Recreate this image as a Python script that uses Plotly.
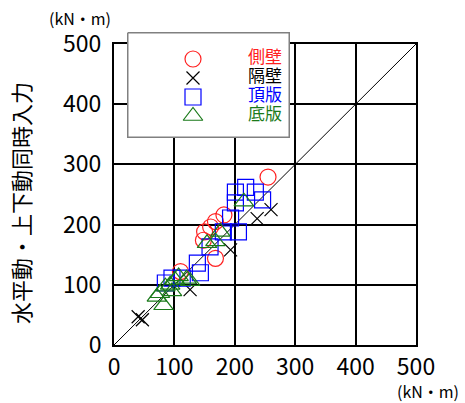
import plotly.graph_objects as go

# Moment comparison: single-direction input (x) vs. combined horizontal + vertical input (y), kN·m
series_names = ["側壁", "隔壁", "頂版", "底版"]
series_colors = ["#ff2020", "#000000", "#0000ff", "#1a7a1a"]
series_symbols = ["circle-open", "x-thin-open", "square-open", "triangle-up-open"]
series_sizes = [16, 13, 16, 17]

side_wall_x = [255, 182, 168, 160, 150, 148, 168, 110]
side_wall_y = [279, 216, 205, 196, 188, 174, 144, 122]

partition_x = [40, 47, 126, 193, 237, 260]
partition_y = [47, 42, 92, 158, 210, 225]

top_slab_x = [218, 201, 234, 246, 201, 193, 206, 181, 159, 138, 143, 113, 96, 85]
top_slab_y = [262, 254, 254, 241, 236, 211, 188, 188, 163, 136, 120, 111, 111, 103]

bottom_slab_x = [215, 176, 168, 154, 126, 107, 101, 93, 85, 76, 71, 82, 96, 120]
bottom_slab_y = [238, 188, 172, 169, 106, 114, 108, 100, 97, 86, 80, 66, 89, 110]

axis_ticks = [0, 100, 200, 300, 400, 500]
y_title = "水平動・上下動同時入力"
unit_label = "(kN・m)"

xs = [side_wall_x, partition_x, top_slab_x, bottom_slab_x]
ys = [side_wall_y, partition_y, top_slab_y, bottom_slab_y]

JP_FONT = "Noto Sans CJK JP"

fig = go.Figure()

# 1:1 reference line
fig.add_trace(go.Scatter(
    x=[axis_ticks[0], axis_ticks[-1]], y=[axis_ticks[0], axis_ticks[-1]],
    mode="lines", line=dict(color="black", width=1), hoverinfo="skip",
))

for name, color, sym, size, x, y in zip(series_names, series_colors, series_symbols,
                                        series_sizes, xs, ys):
    fig.add_trace(go.Scatter(
        x=x, y=y, mode="markers", name=name,
        marker=dict(symbol=sym, size=size, color=color,
                    line=dict(color=color, width=1.2)),
    ))

# Key panel drawn in its own small subplot (pixel-like units)
key_w, key_h = 163, 106
row_gap, row_top = 19, 27
key_rows = [row_top + i * row_gap for i in range(len(series_names))]
fig.add_trace(go.Scatter(
    x=[0.75, key_w - 0.75, key_w - 0.75, 0.75, 0.75],
    y=[0.75, 0.75, key_h - 0.75, key_h - 0.75, 0.75],
    mode="lines", fill="toself", fillcolor="white",
    line=dict(color="#808080", width=1.5),
    xaxis="x2", yaxis="y2", hoverinfo="skip",
))
for name, color, sym, size, ry in zip(series_names, series_colors, series_symbols,
                                      series_sizes, key_rows):
    fig.add_trace(go.Scatter(
        x=[66], y=[ry], mode="markers",
        marker=dict(symbol=sym, size=size, color=color,
                    line=dict(color=color, width=1.2)),
        xaxis="x2", yaxis="y2", cliponaxis=False, hoverinfo="skip",
    ))
fig.add_trace(go.Scatter(
    x=[121] * len(series_names), y=key_rows, mode="text", text=series_names,
    textposition="middle right",
    textfont=dict(family=JP_FONT, size=17, color=series_colors),
    xaxis="x2", yaxis="y2", cliponaxis=False, hoverinfo="skip",
))

W, H = 465, 403
ml, mr, mt, mb = 114, 49, 30, 58
pw, ph = W - ml - mr, H - mt - mb


def px_x(p):
    return (p - ml) / pw


def px_y(p):
    return (H - mb - p) / ph


axis_common = dict(
    range=[axis_ticks[0], axis_ticks[-1]], tickvals=axis_ticks,
    showgrid=True, gridcolor="black", gridwidth=1.5,
    showline=True, linecolor="black", linewidth=2, mirror=True,
    ticks="", zeroline=False,
    tickfont=dict(family=JP_FONT, size=23, color="black"),
)

fig.update_layout(
    width=W, height=H,
    margin=dict(l=ml, r=mr, t=mt, b=mb),
    paper_bgcolor="white", plot_bgcolor="white",
    showlegend=False,
    xaxis=dict(domain=[0, 1], anchor="y", **axis_common),
    yaxis=dict(domain=[0, px_y(44)], anchor="x", ticklabelstandoff=6, **axis_common),
    xaxis2=dict(domain=[px_x(127), px_x(127 + key_w)], anchor="y2",
                range=[0, key_w], visible=False),
    yaxis2=dict(domain=[px_y(32 + key_h), px_y(32)], anchor="x2",
                range=[key_h, 0], visible=False),
    annotations=[
        dict(text=y_title, xref="paper", yref="paper", x=px_x(20), y=px_y(203),
             xanchor="center", yanchor="middle", textangle=-90, showarrow=False,
             font=dict(family=JP_FONT, size=22, color="black")),
        dict(text=unit_label, xref="paper", yref="paper", x=px_x(80), y=px_y(18),
             xanchor="center", yanchor="middle", showarrow=False,
             font=dict(family=JP_FONT, size=16, color="black")),
        dict(text=unit_label, xref="paper", yref="paper", x=px_x(428), y=px_y(391),
             xanchor="center", yanchor="middle", showarrow=False,
             font=dict(family=JP_FONT, size=16, color="black")),
    ],
)

fig.write_html("out.html")
